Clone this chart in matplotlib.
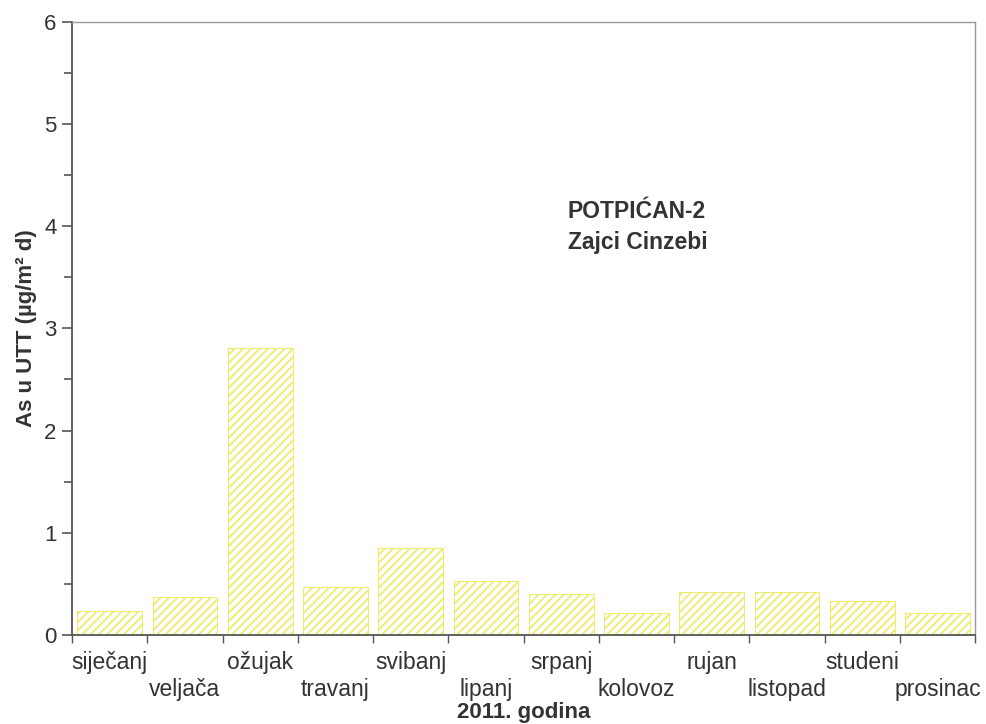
import matplotlib
matplotlib.use("Agg")
import matplotlib.pyplot as plt
import numpy as np

months = ["siječanj", "veljača", "ožujak", "travanj", "svibanj", "lipanj",
          "srpanj", "kolovoz", "rujan", "listopad", "studeni", "prosinac"]
values = [0.235, 0.37, 2.81, 0.47, 0.85, 0.53, 0.40, 0.21, 0.42, 0.42, 0.33, 0.21]
yticks = [0, 1, 2, 3, 4, 5, 6]

plt.rcParams['font.family'] = ['Liberation Sans', 'DejaVu Sans']
plt.rcParams['hatch.linewidth'] = 1.3

fig = plt.figure(figsize=(9.86, 7.24), dpi=100)
ax = fig.add_axes([0.073, 0.123, 0.916, 0.847])

x = np.arange(len(months))
ax.bar(x, values, width=0.86, color='white', edgecolor='#eeec6e',
       hatch='////', linewidth=0.8)

ax.set_xlim(-0.5, len(months) - 0.5)
ax.set_ylim(0, 6)
ax.set_yticks(yticks)
ax.set_yticks(np.arange(0.5, 6, 1), minor=True)
ax.set_yticklabels([str(v) for v in yticks], fontsize=16, color='#333333')
ax.tick_params(axis='y', which='major', direction='out', length=7, width=1.2, color='#555555', pad=4)
ax.tick_params(axis='y', which='minor', direction='out', length=6, width=1.2, color='#555555')

ax.set_xticks(np.arange(-0.5, len(months) + 0.5, 1))
ax.set_xticklabels([])
ax.tick_params(axis='x', which='major', direction='out', length=6, width=1.0, color='#555555')

for i, m in enumerate(months):
    yoff = -0.265 if i % 2 == 0 else -0.53
    ax.text(i, yoff, m, ha='center', va='center', fontsize=16.5, color='#333333',
            transform=ax.transData, clip_on=False)

ax.text(0.5, -0.127, "2011. godina", transform=ax.transAxes, ha='center', va='center',
        fontsize=16, fontweight='bold', color='#333333')
ax.set_ylabel("As u UTT (µg/m² d)", fontsize=16, fontweight='bold', color='#333333', labelpad=5)

ax.text(6.09, 4.14, "POTPIĆAN-2", fontsize=16.5, fontweight='bold', color='#333333', va='center', ha='left')
ax.text(6.09, 3.84, "Zajci Cinzebi", fontsize=16.5, fontweight='bold', color='#333333', va='center', ha='left')

for s in ['top', 'right']:
    ax.spines[s].set_color('#999999')
    ax.spines[s].set_linewidth(1.0)
for s in ['left', 'bottom']:
    ax.spines[s].set_color('#555555')
    ax.spines[s].set_linewidth(1.3)

fig.savefig("out.png", dpi=100, facecolor='white')
